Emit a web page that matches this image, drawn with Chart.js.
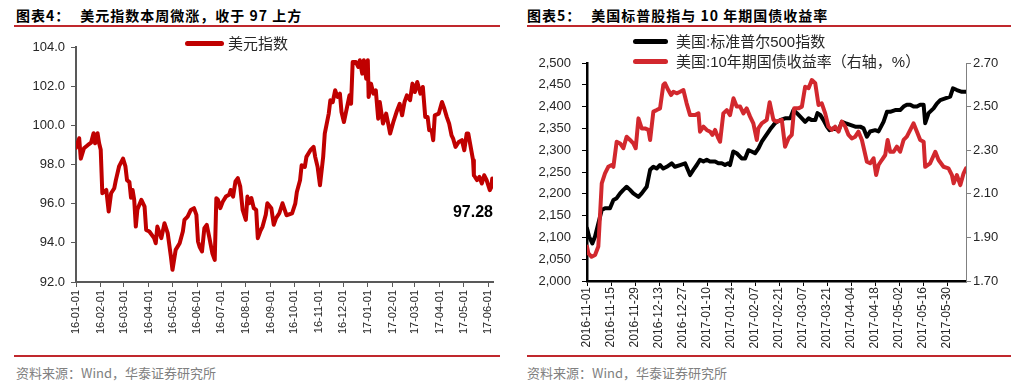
<!DOCTYPE html>
<html lang="zh-CN">
<head>
<meta charset="utf-8">
<title>美元指数 / 标普与10年期国债</title>
<script src="https://cdn.jsdelivr.net/npm/chart.js@4.4.1/dist/chart.umd.min.js"></script>
<style>
  body { margin: 0; width: 1020px; height: 384px; background: #fff; position: relative; overflow: hidden;
         font-family: "Liberation Sans", "Noto Sans CJK SC", sans-serif; color: #262626; }
  .title { position: absolute; top: 5px; font: bold 14px "Noto Sans CJK SC"; letter-spacing: 1px; white-space: nowrap; color: #000; }
  .title span { margin-right: 10px; }
  .rule { position: absolute; height: 2px; background: #C0282D; }
  .source { position: absolute; top: 363px; font: 13px "Noto Sans CJK SC"; color: #808080; white-space: nowrap; }
  .box { position: absolute; top: 30px; height: 325px; }
  .legend .item { position: absolute; white-space: nowrap; height: 20px; line-height: 20px; font-size: 15px; }
  .legend .swatch { position: absolute; left: 0; top: 7px; height: 5px; border-radius: 3px; }
</style>
</head>
<body>

<div class="title" style="left:16px"><span>图表4：</span>美元指数本周微涨，收于 97 上方</div>
<div class="rule" style="left:14px; width:486px; top:25px"></div>
<div class="title" style="left:527px"><span>图表5：</span>美国标普股指与 10 年期国债收益率</div>
<div class="rule" style="left:527px; width:484px; top:25px"></div>

<div class="box" style="left:0; width:505px"><canvas id="usdChart"></canvas></div>
<div class="box" style="left:510px; width:510px"><canvas id="spxChart"></canvas></div>
<div class="legend" id="usdLegend"></div>
<div class="legend" id="spxLegend"></div>

<div class="rule" style="left:14px; width:486px; top:355px"></div>
<div class="rule" style="left:527px; width:484px; top:355px"></div>
<div class="source" style="left:16px">资料来源：Wind，华泰证券研究所</div>
<div class="source" style="left:527px">资料来源：Wind，华泰证券研究所</div>

<script>
/* ---- data: US dollar index (days counted from 2016-01-01) ---- */
const usdDays = [0, 4, 6, 10, 15, 19, 22, 24, 27, 29, 31, 33, 38, 41, 44, 48, 50, 54, 59, 62,
  64, 67, 69, 71, 73, 75, 77, 82, 86, 88, 92, 98, 100, 102, 107, 111, 115, 119, 121, 125,
  130, 134, 136, 140, 144, 148, 151, 153, 155, 158, 161, 164, 167, 171, 174, 176, 178, 181, 184, 188,
  192, 194, 197, 200, 203, 206, 209, 213, 215, 217, 220, 223, 226, 228, 231, 234, 238, 240, 245, 248,
  251, 255, 259, 264, 271, 275, 277, 281, 283, 287, 289, 294, 298, 300, 303, 306, 310, 312, 317, 319,
  322, 325, 328, 331, 333, 336, 340, 343, 345, 347, 351, 354, 356, 359, 361, 364, 366, 367, 370, 373,
  376, 379, 381, 385, 389, 392, 394, 398, 402, 406, 409, 412, 415, 419, 422, 425, 428, 432, 435, 438,
  441, 443, 446, 448, 450, 455, 459, 462, 465, 468, 471, 473, 476, 480, 484, 487, 490, 492, 495, 498,
  499, 503, 506, 509, 512, 515, 519, 521, 522];
const usdIndex = [98.85, 99.34, 98.30, 98.83, 99.00, 99.12, 99.60, 99.08, 99.60, 99.08, 98.75, 96.53, 96.70, 95.60, 96.53, 96.79, 97.20, 97.90, 98.30, 97.90,
  97.20, 97.10, 96.30, 96.70, 96.20, 94.83, 95.70, 96.20, 95.85, 94.66, 94.58, 94.24, 93.98, 94.83, 94.24, 95.00, 94.50, 93.30, 92.62, 93.64,
  93.98, 94.58, 95.17, 95.34, 95.68, 95.77, 95.43, 94.07, 93.80, 93.56, 94.75, 94.92, 94.32, 93.47, 93.13, 96.28, 96.20, 95.77, 96.10, 96.36,
  96.45, 96.70, 96.36, 97.13, 97.30, 96.87, 95.68, 95.17, 96.36, 96.02, 96.28, 95.77, 95.68, 94.24, 94.58, 94.83, 95.43, 96.02, 95.77, 94.92,
  95.26, 95.51, 96.02, 95.41, 95.50, 96.00, 96.60, 97.20, 97.96, 97.88, 98.39, 98.73, 98.90, 98.39, 97.88, 96.94, 98.39, 99.58, 100.60, 101.28,
  101.19, 101.79, 101.45, 101.62, 100.68, 100.17, 100.94, 101.53, 101.10, 103.23, 103.23, 102.98, 103.32, 102.64, 103.32, 102.38, 103.32, 101.45, 102.13, 101.62,
  101.79, 100.34, 101.19, 100.09, 100.60, 100.00, 99.58, 100.17, 100.68, 101.10, 100.51, 101.19, 101.53, 101.28, 102.13, 101.70, 102.21, 101.62, 101.96, 100.43,
  100.43, 99.75, 99.75, 99.24, 100.51, 100.60, 101.19, 100.85, 100.43, 100.09, 99.49, 99.32, 98.90, 99.15, 99.24, 98.73, 99.58, 99.58, 98.90, 98.22,
  97.45, 97.20, 97.37, 97.03, 97.45, 97.20, 96.69, 96.86, 97.28];
const usdTickLabels = ['16-01-01', '16-02-01', '16-03-01', '16-04-01', '16-05-01', '16-06-01', '16-07-01', '16-08-01', '16-09-01',
  '16-10-01', '16-11-01', '16-12-01', '17-01-01', '17-02-01', '17-03-01', '17-04-01', '17-05-01', '17-06-01'];

/* ---- data: S&P 500 and 10y treasury yield (days counted from 2016-11-01) ---- */
const spxDays = [0, 1.2, 3.1, 4.7, 6.6, 8.6, 10.5, 13.4, 15.4, 17.3, 19.3, 21.2, 23.1, 25.1, 27, 30, 31.9, 34.8, 36.8, 38.7,
  40.6, 42.6, 44.5, 46.5, 49.4, 51.3, 54.3, 57.2, 60.1, 62, 64, 65.9, 67.9, 69.8, 71.7, 74.7, 76.6, 78.6, 80.5, 82.4,
  83.4, 85.3, 87.3, 90.2, 92.2, 94.1, 96, 98, 100, 102, 103.9, 106.8, 108.8, 109.7, 112.6, 115.5, 118.5, 120.4, 122.4, 125.3,
  127.2, 129.2, 131.1, 133.1, 134.4, 136, 137.9, 139.9, 141.4, 143.7, 146.7, 148.6, 150.6, 153.5, 156.4, 159.3, 161.3, 163.2, 165.1, 168,
  170, 172.9, 174.9, 176.8, 179.7, 182.6, 184.6, 186.5, 188.5, 190.4, 192.4, 194.3, 196.3, 197.2, 199.2, 202.1, 204, 206, 208.9, 211.8,
  213.4, 215.7, 218.6, 221];
const spxIndex = [2121, 2102, 2086, 2102, 2132, 2163, 2167, 2167, 2186, 2190, 2201, 2209, 2216, 2209, 2201, 2193, 2201, 2216, 2255, 2262,
  2258, 2266, 2258, 2262, 2270, 2262, 2266, 2270, 2243, 2255, 2266, 2278, 2274, 2278, 2274, 2274, 2270, 2270, 2266, 2270,
  2266, 2297, 2293, 2281, 2281, 2300, 2297, 2293, 2304, 2320, 2331, 2348, 2358, 2362, 2369, 2373, 2373, 2392, 2385, 2373,
  2365, 2373, 2369, 2369, 2385, 2381, 2369, 2354, 2346, 2350, 2346, 2365, 2362, 2358, 2354, 2354, 2350, 2331, 2343, 2346,
  2343, 2365, 2388, 2388, 2392, 2392, 2400, 2404, 2404, 2400, 2400, 2404, 2404, 2362, 2385, 2396, 2407, 2415, 2419, 2423,
  2442, 2438, 2434, 2434];
const ustDays = [0, 0.8, 2.7, 4.7, 6.6, 8.6, 10.5, 12.4, 14.4, 15.4, 17.3, 19.3, 21.2, 23.1, 25.1, 27, 28.4, 30, 31.9, 33.8,
  35.8, 36.8, 38.7, 40.6, 42.6, 44.5, 45.5, 47.4, 49, 50.4, 52.3, 54.3, 56.2, 58.1, 60.1, 63, 65, 65.9, 67.9, 69.8,
  71.8, 73.1, 74.7, 76.6, 77.6, 79.5, 81.5, 83.4, 85.4, 87.3, 89.3, 91.2, 93.1, 95.1, 97, 99, 99.9, 101.9, 104.8, 106.5,
  108.7, 110.7, 113.6, 115.5, 117.5, 119.4, 120.8, 123.3, 125.3, 127.2, 129.2, 131.1, 133.1, 135, 136.9, 138.9, 140.8, 142.8, 144.7, 146.7,
  148.6, 150.6, 152.5, 154.4, 156.4, 158.3, 160.3, 163.2, 165.1, 167.1, 168.6, 170, 171.9, 173.9, 175.3, 176.8, 178.8, 180.7, 182.6, 184.6,
  186.5, 188.5, 190.4, 192.4, 194.3, 196.3, 197.2, 200.1, 203.1, 205, 207.9, 210.8, 212.8, 213.8, 215.7, 217.7, 219.6, 221];
const ustYield = [1.858, 1.827, 1.811, 1.819, 1.858, 2.148, 2.194, 2.224, 2.232, 2.224, 2.339, 2.331, 2.309, 2.362, 2.347, 2.331, 2.309, 2.446, 2.400, 2.400,
  2.393, 2.347, 2.477, 2.484, 2.492, 2.599, 2.607, 2.576, 2.553, 2.568, 2.561, 2.568, 2.576, 2.515, 2.461, 2.461, 2.469, 2.385, 2.408, 2.393,
  2.385, 2.370, 2.393, 2.354, 2.339, 2.469, 2.484, 2.461, 2.538, 2.500, 2.500, 2.469, 2.492, 2.454, 2.423, 2.347, 2.400, 2.423, 2.439, 2.520,
  2.439, 2.431, 2.439, 2.316, 2.354, 2.370, 2.492, 2.492, 2.500, 2.591, 2.584, 2.622, 2.607, 2.507, 2.515, 2.469, 2.408, 2.393, 2.408, 2.385,
  2.431, 2.408, 2.370, 2.354, 2.362, 2.385, 2.347, 2.247, 2.240, 2.263, 2.186, 2.232, 2.255, 2.278, 2.347, 2.293, 2.293, 2.316, 2.293, 2.347,
  2.362, 2.393, 2.423, 2.385, 2.347, 2.339, 2.224, 2.240, 2.293, 2.255, 2.224, 2.217, 2.186, 2.148, 2.186, 2.140, 2.194, 2.217];
const spxTickLabels = ['2016-11-01', '2016-11-15', '2016-11-29', '2016-12-13', '2016-12-27', '2017-01-10', '2017-01-24', '2017-02-07',
  '2017-02-21', '2017-03-07', '2017-03-21', '2017-04-04', '2017-04-18', '2017-05-02', '2017-05-16', '2017-05-30'];

/* helpers */
function daysSince(label, base) {
  const p = label.split('-').map(Number);
  const y = p[0] < 100 ? 2000 + p[0] : p[0];
  return (Date.UTC(y, p[1] - 1, p[2]) - base) / 864e5;
}
function toPoints(xs, ys) {
  return xs.map(function (x, i) { return { x: x, y: ys[i] }; });
}
function htmlLegend(chart, el, rows) {
  chart.data.datasets.forEach(function (ds, i) {
    const row = rows[i];
    const item = document.createElement('div');
    item.className = 'item';
    item.style.left = row.x + 'px';
    item.style.top = (row.y - 10) + 'px';
    item.style.paddingLeft = (row.w + row.gap) + 'px';
    const sw = document.createElement('span');
    sw.className = 'swatch';
    sw.style.width = row.w + 'px';
    sw.style.background = ds.borderColor;
    item.appendChild(sw);
    item.appendChild(document.createTextNode(ds.label));
    el.appendChild(item);
  });
}

const usdBase = Date.UTC(2016, 0, 1);
const spxBase = Date.UTC(2016, 10, 1);
const usdTickDays = usdTickLabels.map(function (l) { return daysSince(l, usdBase); });
const spxTickDays = spxTickLabels.map(function (l) { return daysSince(l, spxBase); });

const labelColor = '#262626';
Chart.defaults.font.family = '"Liberation Sans", "Noto Sans CJK SC", sans-serif';
Chart.defaults.color = labelColor;

/* prints the latest value under the end of the line */
const lastValueLabel = {
  id: 'lastValueLabel',
  afterDatasetsDraw: function (chart) {
    const data = chart.data.datasets[0].data;
    const last = data[data.length - 1];
    const ctx = chart.ctx;
    const y = chart.scales.y.getPixelForValue(last.y);
    ctx.save();
    ctx.font = 'bold 16px "Liberation Sans"';
    ctx.fillStyle = '#000';
    ctx.textAlign = 'right';
    ctx.textBaseline = 'middle';
    ctx.fillText(last.y.toFixed(2), chart.chartArea.right, y + 34);
    ctx.restore();
  }
};

/* ---- chart 4: dollar index ---- */
const usdChart = new Chart(document.getElementById('usdChart'), {
  type: 'line',
  data: {
    datasets: [{
      label: '美元指数',
      data: toPoints(usdDays, usdIndex),
      borderColor: '#C00000',
      borderWidth: 4,
      pointRadius: 0,
      borderJoinStyle: 'round',
      borderCapStyle: 'round',
      tension: 0
    }]
  },
  options: {
    responsive: true,
    maintainAspectRatio: false,
    animation: false,
    layout: { padding: { top: 17, right: 12, left: 0, bottom: 0 } },
    plugins: { legend: { display: false }, tooltip: { enabled: false } },
    scales: {
      x: {
        type: 'linear',
        min: 0,
        max: 523,
        afterBuildTicks: function (scale) {
          scale.ticks = usdTickDays.map(function (v) { return { value: v }; });
        },
        afterFit: function (scale) { scale.height = 73; },
        ticks: {
          autoSkip: false, minRotation: 90, maxRotation: 90, padding: 3,
          font: { size: 11 },
          callback: function (v, i) { return usdTickLabels[i]; }
        },
        grid: { drawOnChartArea: false, tickLength: 5, color: '#595959' },
        border: { color: '#595959', width: 2 }
      },
      y: {
        min: 92,
        max: 104,
        afterFit: function (scale) { scale.width = 76; },
        ticks: {
          stepSize: 2, padding: 6,
          font: { size: 13 },
          callback: function (v) { return v.toFixed(1); }
        },
        grid: { drawOnChartArea: false, tickLength: 5, color: '#595959' },
        border: { color: '#595959', width: 2 }
      }
    }
  },
  plugins: [lastValueLabel]
});

/* ---- chart 5: S&P 500 vs 10y yield ---- */
const spxChart = new Chart(document.getElementById('spxChart'), {
  type: 'line',
  data: {
    datasets: [{
      label: '美国:标准普尔500指数',
      data: toPoints(spxDays, spxIndex),
      borderColor: '#000000',
      borderWidth: 4,
      pointRadius: 0,
      borderJoinStyle: 'round',
      borderCapStyle: 'round',
      tension: 0,
      yAxisID: 'y',
      order: 1
    }, {
      label: '美国:10年期国债收益率（右轴，%）',
      data: toPoints(ustDays, ustYield),
      borderColor: '#D2282E',
      borderWidth: 4,
      pointRadius: 0,
      borderJoinStyle: 'round',
      borderCapStyle: 'round',
      tension: 0,
      yAxisID: 'y1',
      order: 0
    }]
  },
  options: {
    responsive: true,
    maintainAspectRatio: false,
    animation: false,
    layout: { padding: { top: 33, right: 0, left: 0, bottom: 0 } },
    plugins: { legend: { display: false }, tooltip: { enabled: false } },
    scales: {
      x: {
        type: 'linear',
        min: 0,
        max: 221,
        afterBuildTicks: function (scale) {
          scale.ticks = spxTickDays.map(function (v) { return { value: v }; });
        },
        afterFit: function (scale) { scale.height = 74; },
        ticks: {
          autoSkip: false, minRotation: 90, maxRotation: 90, padding: 1,
          font: { size: 12 },
          callback: function (v, i) { return spxTickLabels[i]; }
        },
        grid: { drawOnChartArea: false, tickLength: 5, color: '#000' },
        border: { color: '#000', width: 2.5 }
      },
      y: {
        position: 'left',
        min: 2000,
        max: 2500,
        afterFit: function (scale) { scale.width = 77; },
        ticks: {
          stepSize: 50, padding: 11,
          font: { size: 13 },
          callback: function (v) { return v.toLocaleString('en-US'); }
        },
        grid: { drawOnChartArea: false, tickLength: 5, color: '#000' },
        border: { color: '#000', width: 2.5 }
      },
      y1: {
        position: 'right',
        min: 1.7,
        max: 2.7,
        afterFit: function (scale) { scale.width = 54; },
        ticks: {
          stepSize: 0.2, padding: 2,
          font: { size: 13 },
          callback: function (v) { return v.toFixed(2); }
        },
        grid: { drawOnChartArea: false, tickLength: 5, color: '#808080' },
        border: { color: '#808080', width: 1 }
      }
    }
  }
});

htmlLegend(usdChart, document.getElementById('usdLegend'), [
  { x: 185, y: 44, w: 39, gap: 4 }
]);
htmlLegend(spxChart, document.getElementById('spxLegend'), [
  { x: 633, y: 42, w: 35, gap: 8 },
  { x: 633, y: 62, w: 35, gap: 8 }
]);
</script>
</body>
</html>
